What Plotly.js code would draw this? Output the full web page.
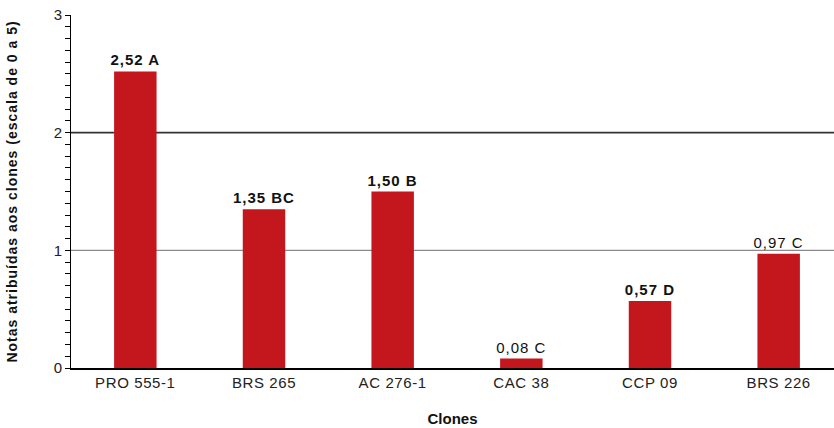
<!DOCTYPE html>
<html>
<head>
<meta charset="utf-8">
<script src="https://cdn.plot.ly/plotly-3.0.1.min.js"></script>
<style>
  html, body { margin: 0; padding: 0; background: #fff; }
  #chart { width: 834px; height: 428px; }
  /* slightly open tracking, as in the printed figure */
  #chart .ytitle { letter-spacing: 1px; }
  #chart .xtick text { letter-spacing: 0.6px; }
  #chart .bartext { letter-spacing: 1px; }
</style>
</head>
<body>
<div id="chart"></div>
<script>
// Clones and the scores given to them (scale 0 to 5), with Tukey group letters
const clones = ["PRO 555-1", "BRS 265", "AC 276-1", "CAC 38", "CCP 09", "BRS 226"];
const scores = [2.52, 1.35, 1.50, 0.08, 0.57, 0.97];
const groups = ["A", "BC", "B", "C", "D", "C"];
const yTicks = [0, 1, 2, 3];
const gridValues = [1, 2];

// label styling: which value labels are set in bold
const boldLabel = [true, true, true, false, true, false];

const labelText = scores.map((v, i) => {
  const s = v.toFixed(2).replace(".", ",") + " " + groups[i];
  return boldLabel[i] ? "<b>" + s + "</b>" : s;
});

const FONT = "Liberation Sans, Arial, Helvetica, sans-serif";

const trace = {
  type: "bar",
  x: clones,
  y: scores,
  text: labelText,
  textposition: "outside",
  constraintext: "none",
  cliponaxis: false,
  textfont: { family: FONT, size: 15, color: "#111" },
  marker: { color: "#C4161D", line: { width: 0 } },
  hoverinfo: "x+y"
};

const gridColors = { 1: "#8a8a8a", 2: "#333333" };
const shapes = gridValues.map(v => ({
  type: "line",
  xref: "paper", x0: 0, x1: 1,
  yref: "y", y0: v, y1: v,
  line: { color: gridColors[v], width: v === 2 ? 1.6 : 1.4 },
  layer: "below"
}));

const layout = {
  width: 834,
  height: 428,
  margin: { l: 71, r: 0, t: 15, b: 60 },
  paper_bgcolor: "#fff",
  plot_bgcolor: "#fff",
  showlegend: false,
  bargap: 0.67,
  font: { family: FONT, color: "#222" },
  shapes: shapes,
  xaxis: {
    type: "category",
    range: [-0.5, 5.43],
    showgrid: false,
    showline: true,
    linecolor: "#000",
    linewidth: 1.5,
    ticks: "",
    tickfont: { family: FONT, size: 15, color: "#222" },
    title: { text: "<b>Clones</b>", font: { family: FONT, size: 15, color: "#111" }, standoff: 24 },
    zeroline: false,
    fixedrange: true
  },
  yaxis: {
    range: [0, 3],
    tickvals: yTicks,
    ticktext: yTicks.map(String),
    showgrid: false,
    zeroline: false,
    showline: true,
    linecolor: "#000",
    linewidth: 1,
    ticks: "outside",
    ticklen: 5,
    tickwidth: 1,
    tickcolor: "#000",
    minor: { dtick: 0.1, ticks: "outside", ticklen: 5, tickwidth: 1, tickcolor: "#000", showgrid: false },
    tickfont: { family: FONT, size: 15, color: "#222" },
    title: { text: "<b>Notas atribuídas aos clones (escala de 0 a 5)</b>", font: { family: FONT, size: 14, color: "#111" }, standoff: 32 },
    fixedrange: true
  }
};

Plotly.newPlot("chart", [trace], layout, { displayModeBar: false, staticPlot: true });
</script>
</body>
</html>
